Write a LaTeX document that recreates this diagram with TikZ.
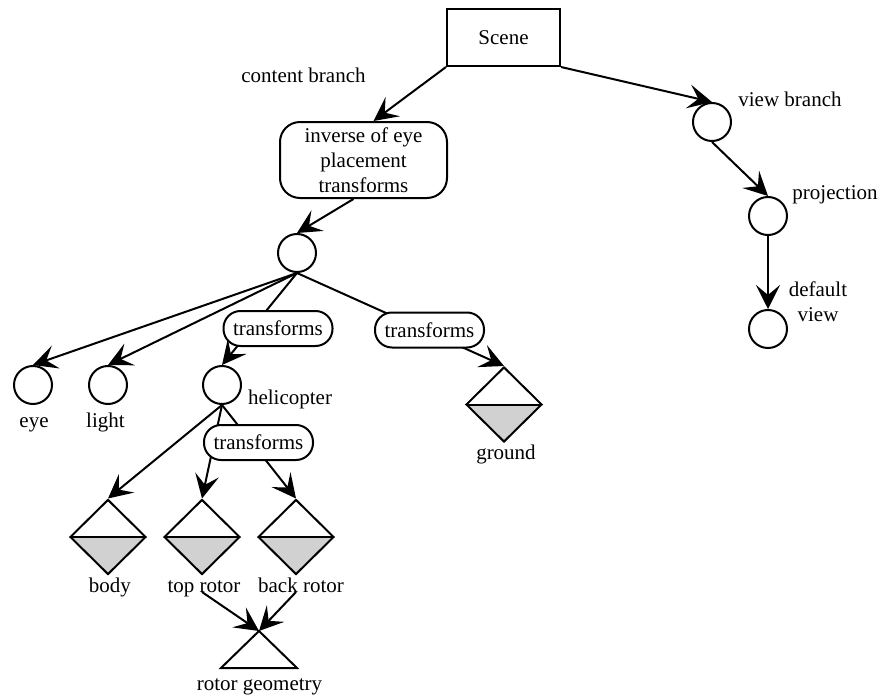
\documentclass[tikz,border=0pt]{standalone}
\usepackage{fontspec}
\setmainfont{Liberation Serif}
\usepackage{tikz}
\usetikzlibrary{shapes.geometric,arrows.meta}

\begin{document}
\begin{tikzpicture}[x=0.5pt,y=-0.5pt,line width=1pt,
  font=\fontsize{10.5}{12.5}\selectfont,
  arr/.style={-{Stealth[length=12pt,width=12pt,inset=5pt]}},
  circ/.style={draw,circle,minimum size=19pt,inner sep=0pt},
  lbl/.style={anchor=base,inner sep=0pt},
  tbox/.style={draw,fill=white,rounded corners=8.5pt,minimum width=54.5pt,minimum height=17.5pt,inner sep=0pt},
  geom/.style={draw,diamond,minimum width=38pt,minimum height=37.5pt,inner sep=0pt,
    path picture={\fill[black!18] (path picture bounding box.west) -- (path picture bounding box.east) -- (path picture bounding box.south) -- cycle;
      \draw (path picture bounding box.west) -- (path picture bounding box.east);}}]
\useasboundingbox (0,0) rectangle (880,696);

\node[draw,minimum width=56.5pt,minimum height=28.5pt] (scene) at (503.5,37.5) {Scene};
\node[draw,rounded corners=10pt,minimum width=83.5pt,minimum height=38pt,align=center,inner sep=0pt] (inverse) at (363.5,160) {inverse of eye\\placement\\transforms};
\node[circ] (root) at (297,253) {};
\node[circ] (eye) at (33,385) {};
\node[circ] (light) at (108,385) {};
\node[circ] (heli) at (222,385) {};
\node[geom] (ground) at (504,404.5) {};
\node[geom] (body) at (108,537) {};
\node[geom] (toprotor) at (202,537) {};
\node[geom] (backrotor) at (296,537) {};
\node[circ] (viewb) at (712,122) {};
\node[circ] (proj) at (768,216) {};
\node[circ] (defview) at (768,329) {};
\coordinate (rotgeo) at (259,631);
\draw (rotgeo) -- ++(-38,37) -- ++(76,0) -- cycle;

\node[lbl] (contentlbl) at (303.5,83) {content branch};
\node[lbl] (viewblbl) at (790,106) {view branch};
\node[lbl] (projlbl) at (835,199) {projection};
\node[align=center] (defviewlbl) at (818,302) {default\\view};
\node[lbl] (eyelbl) at (34,427) {eye};
\node[lbl] (lightlbl) at (105.5,427) {light};
\node[lbl] (helilbl) at (290,404) {helicopter};
\node[lbl] (groundlbl) at (506,459) {ground};
\node[lbl] (bodylbl) at (110,592) {body};
\node[lbl] (toprotorlbl) at (204,592) {top rotor};
\node[lbl] (backrotorlbl) at (301,592) {back rotor};
\node[lbl] (rotgeolbl) at (259.5,690) {rotor geometry};

\draw[arr] (scene.south west) -- ([xshift=5pt]inverse.north);
\draw[arr] (scene.south east) -- (viewb.north);
\draw[arr] (viewb.south) -- (proj.north);
\draw[arr] (proj.south) -- (defview.north);
\draw[arr] ([xshift=-5pt]inverse.south) -- (root.north);
\draw[arr] (root.south) -- (eye.north);
\draw[arr] (root.south) -- (light.north);
\draw[arr] (root.south) -- (heli.north);
\draw[arr] (root.south) -- (ground.north);
\draw[arr] (heli.south) -- (body.north);
\draw[arr] (heli.south) -- (toprotor.north);
\draw[arr] (heli.south) -- (backrotor.north);
\draw[arr] (toprotor.south |- toprotorlbl.base) -- (rotgeo);
\draw[arr] (backrotor.south |- backrotorlbl.base) -- (rotgeo);

\node[tbox] (tfheli) at (278,328.5) {transforms};
\node[tbox] (tfground) at (429.5,330) {transforms};
\node[tbox] (tfrotor) at (258.5,442.5) {transforms};
\end{tikzpicture}
\end{document}
